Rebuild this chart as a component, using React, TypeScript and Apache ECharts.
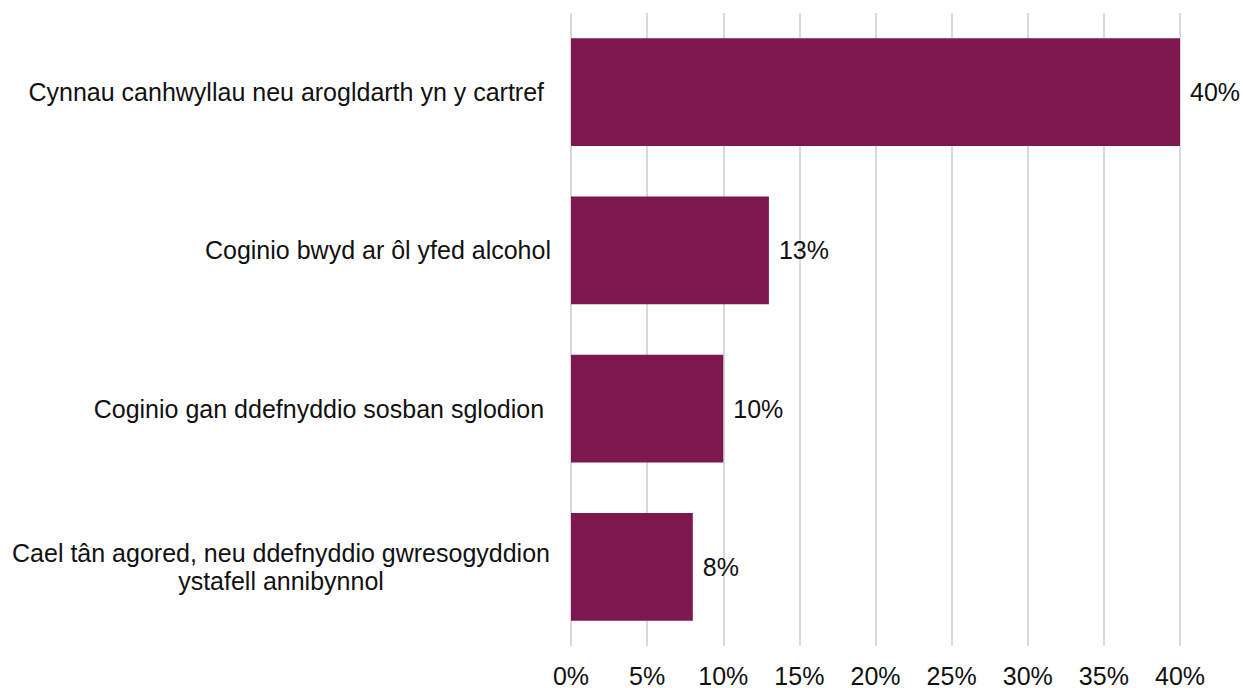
import React, { useEffect, useRef } from "react";
import * as echarts from "echarts";

const categories = [
  "Cynnau canhwyllau neu arogldarth yn y cartref ",
  "Coginio bwyd ar ôl yfed alcohol",
  "Coginio gan ddefnyddio sosban sglodion ",
  "Cael tân agored, neu ddefnyddio gwresogyddion\nystafell annibynnol",
];
const values = [40, 13, 10, 8];
const xTicks = [0, 5, 10, 15, 20, 25, 30, 35, 40];

export default function App() {
  const ref = useRef<HTMLDivElement>(null);
  useEffect(() => {
    const chart = echarts.init(ref.current!, null, { renderer: "svg" });
    chart.setOption({
      animation: false,
      textStyle: { fontFamily: "Liberation Sans, Arial, sans-serif" },
      grid: { left: 571, right: 63, top: 13, bottom: 40, containLabel: false },
      xAxis: {
        type: "value",
        min: xTicks[0],
        max: xTicks[xTicks.length - 1],
        interval: 5,
        axisLabel: {
          formatter: "{value}%",
          fontSize: 25,
          color: "#111",
          margin: 17,
        },
        splitLine: { show: true, lineStyle: { color: "#d9d9d9", width: 2 } },
        axisLine: { show: false },
        axisTick: { show: false },
      },
      yAxis: {
        type: "category",
        data: categories,
        inverse: true,
        axisLine: { show: false },
        axisTick: { show: false },
        axisLabel: {
          fontSize: 25,
          color: "#111",
          margin: 20,
          align: "right",
          lineHeight: 28,
          formatter: (v: string) => {
            if (v.includes("\n")) {
              const [a, b] = v.split("\n");
              return "{c|" + a + "}\n{c|" + b + "}";
            }
            return v;
          },
          rich: {
            c: { fontSize: 25, color: "#111", align: "center", width: 540, lineHeight: 28 },
          },
        },
      },
      series: [
        {
          type: "bar",
          data: values,
          barWidth: "68%",
          itemStyle: { color: "#7d174d" },
          label: {
            show: true,
            position: "right",
            distance: 10,
            formatter: "{c}%",
            fontSize: 25,
            color: "#111",
          },
        },
      ],
    });
    return () => chart.dispose();
  }, []);
  return <div ref={ref} style={{ width: 1243, height: 688, position: "absolute", left: 0, top: 0 }} />;
}
